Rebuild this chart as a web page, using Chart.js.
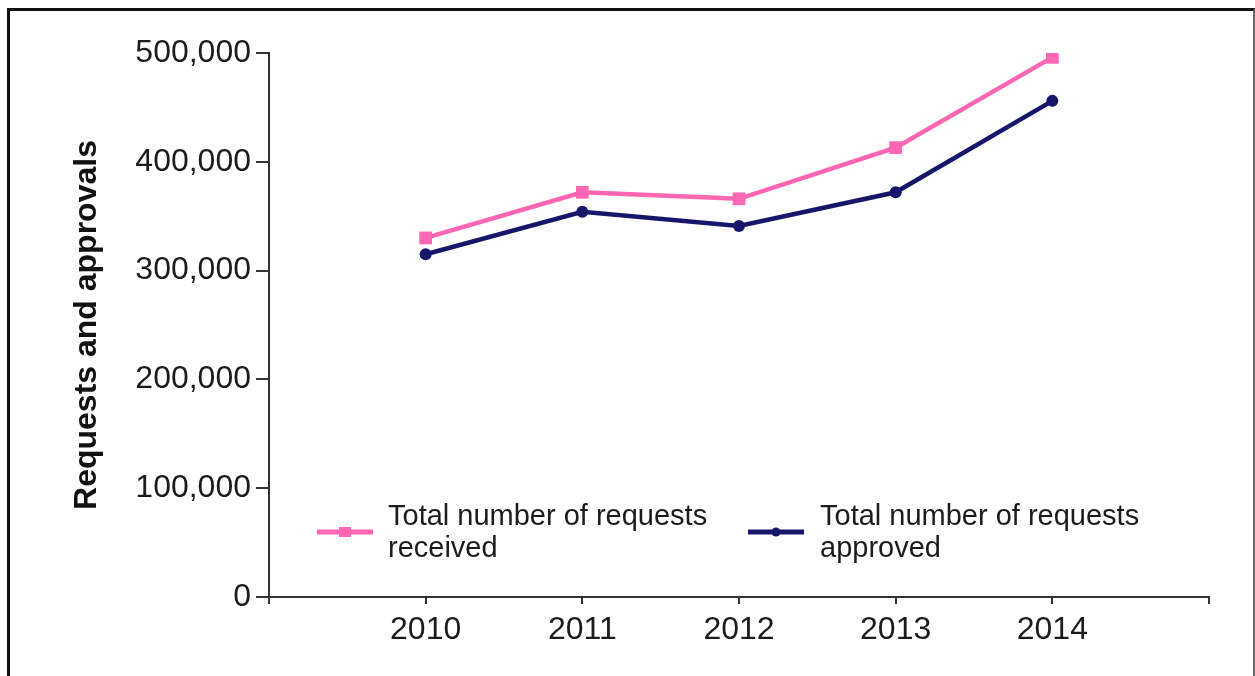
<!DOCTYPE html>
<html>
<head>
<meta charset="utf-8">
<script src="https://cdn.jsdelivr.net/npm/chart.js@4.4.0/dist/chart.umd.min.js"></script>
<style>
  html, body { margin: 0; padding: 0; background: #fff; }
  #wrap { position: relative; width: 1255px; height: 676px; overflow: hidden; }
  #frame {
    position: absolute; left: 7px; top: 8px; width: 1243px; height: 700px;
    border-left: 3px solid #111; border-top: 3px solid #111; border-right: 2px solid #666;
    pointer-events: none;
  }
  canvas { position: absolute; left: 0; top: 0; }
</style>
</head>
<body>
<div id="wrap">
  <canvas id="chart" width="1255" height="676"></canvas>
  <div id="frame"></div>
</div>
<script>
  const years = [2010, 2011, 2012, 2013, 2014];
  const received = [330000, 372000, 366000, 413000, 496000];
  const approved = [315000, 354000, 341000, 372000, 456000];
  const yTicks = [0, 100000, 200000, 300000, 400000, 500000];
  const legendLabels = [
    ["Total number of requests", "received"],
    ["Total number of requests", "approved"]
  ];

  const pink = "#ff66b3";
  const navy = "#16166a";
  const textColor = "#1c1c1c";
  const axisColor = "#333";

  // legend drawn inside the plot, two items side by side
  const insideLegend = {
    id: "insideLegend",
    afterDraw(chart) {
      const ctx = chart.ctx;
      const items = [
        { x: 317, labelX: 388, ds: chart.data.datasets[0], text: legendLabels[0] },
        { x: 748, labelX: 820, ds: chart.data.datasets[1], text: legendLabels[1] }
      ];
      const lineY = 532;
      ctx.save();
      items.forEach(it => {
        ctx.strokeStyle = it.ds.borderColor;
        ctx.lineWidth = 5;
        ctx.beginPath();
        ctx.moveTo(it.x, lineY);
        ctx.lineTo(it.x + 56, lineY);
        ctx.stroke();
        const mid = it.x + 28;
        ctx.fillStyle = it.ds.borderColor;
        if (it.ds.pointStyle === "rect") {
          ctx.fillRect(mid - 6, lineY - 5, 12, 10);
        } else {
          ctx.beginPath();
          ctx.arc(mid, lineY, 4.5, 0, Math.PI * 2);
          ctx.fill();
        }
        ctx.fillStyle = textColor;
        ctx.font = "29px 'Liberation Sans', Arial, sans-serif";
        ctx.textAlign = "left";
        ctx.textBaseline = "alphabetic";
        it.text.forEach((t, i) => ctx.fillText(t, it.labelX, 525 + i * 32));
      });
      ctx.restore();
    }
  };

  const ctx = document.getElementById("chart").getContext("2d");
  new Chart(ctx, {
    type: "line",
    data: {
      datasets: [
        {
          label: legendLabels[0].join(" "),
          data: years.map((x, i) => ({ x: x, y: received[i] })),
          borderColor: pink,
          backgroundColor: pink,
          borderWidth: 4.5,
          pointStyle: "rect",
          pointRadius: 9,
          pointBorderWidth: 0,
          tension: 0
        },
        {
          label: legendLabels[1].join(" "),
          data: years.map((x, i) => ({ x: x, y: approved[i] })),
          borderColor: navy,
          backgroundColor: navy,
          borderWidth: 4.5,
          pointStyle: "circle",
          pointRadius: 6,
          pointBorderWidth: 0,
          tension: 0
        }
      ]
    },
    options: {
      responsive: false,
      animation: false,
      layout: { padding: { left: 60, right: 46, top: 53, bottom: 0 } },
      plugins: {
        legend: { display: false },
        tooltip: { enabled: false }
      },
      scales: {
        x: {
          type: "linear",
          min: 2009,
          max: 2015,
          afterBuildTicks: s => { s.ticks = [2009, 2010, 2011, 2012, 2013, 2014, 2015].map(v => ({ value: v })); },
          ticks: {
            color: textColor,
            font: { family: "'Liberation Sans', Arial, sans-serif", size: 32 },
            padding: 7,
            maxRotation: 0,
            callback: v => (years.includes(v) ? String(v) : "")
          },
          grid: { drawOnChartArea: false, drawTicks: true, tickLength: 7, color: axisColor, lineWidth: 2 },
          border: { display: true, color: axisColor, width: 2 },
          afterFit: s => { s.height = 79; }
        },
        y: {
          min: 0,
          max: 500000,
          afterBuildTicks: s => { s.ticks = yTicks.map(v => ({ value: v })); },
          ticks: {
            color: textColor,
            font: { family: "'Liberation Sans', Arial, sans-serif", size: 32 },
            padding: 5
          },
          grid: { drawOnChartArea: false, drawTicks: true, tickLength: 13, color: axisColor, lineWidth: 2 },
          border: { display: true, color: axisColor, width: 2 },
          title: {
            display: true,
            text: "Requests and approvals",
            color: "#111",
            font: { family: "'Liberation Sans', Arial, sans-serif", size: 32, weight: "bold" },
            padding: { top: 8, bottom: 0 }
          },
          afterFit: s => { s.width = 269 - 60; }
        }
      }
    },
    plugins: [insideLegend]
  });
</script>
</body>
</html>
